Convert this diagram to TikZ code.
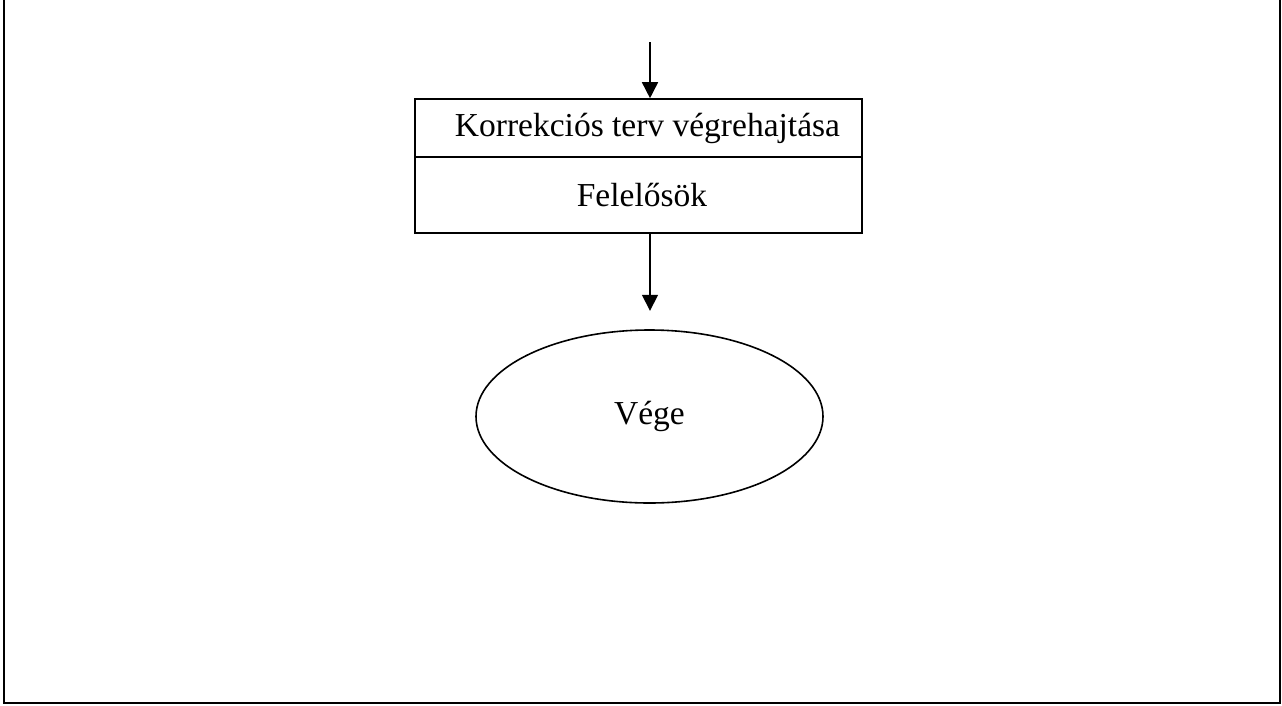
\documentclass[tikz,border=0pt]{standalone}
\usepackage{fontspec}
\setmainfont{Liberation Serif}
\usetikzlibrary{shapes.geometric,arrows.meta}
\begin{document}
\begin{tikzpicture}[x=1pt,y=-1pt,
  box/.style={draw,line width=1.6pt,minimum width=447pt,inner sep=0pt,font=\fontsize{33.5}{38}\selectfont},
  endnode/.style={draw,ellipse,line width=1.6pt,minimum width=347pt,minimum height=173pt,inner sep=0pt,font=\fontsize{33.5}{38}\selectfont},
  conn/.style={line width=1.6pt,-{Triangle[length=16pt,width=16pt]}},
  frame/.style={line width=2.2pt}]
\useasboundingbox (0,0) rectangle (1282,705);
\coordinate (f1) at (4,0);
\coordinate (f2) at (4,703);
\coordinate (f3) at (1280,703);
\coordinate (f4) at (1280,0);
\draw[frame] (f1) -- (f2) -- (f3) -- (f4);
\node[box,minimum height=58pt] (task) at (638.5,128) {\hspace{18pt}Korrekciós terv végrehajtása};
\node[box,minimum height=76pt] (resp) at (638.5,195) {\hspace{7pt}Felelősök};
\coordinate (in) at (650,42);
\node[endnode] (end) at (649.5,416.5) {Vége};
\draw[conn] (in) -- (in |- task.north);
\draw[conn] (resp.south -| in) -- ++(0,77);
\end{tikzpicture}
\end{document}
